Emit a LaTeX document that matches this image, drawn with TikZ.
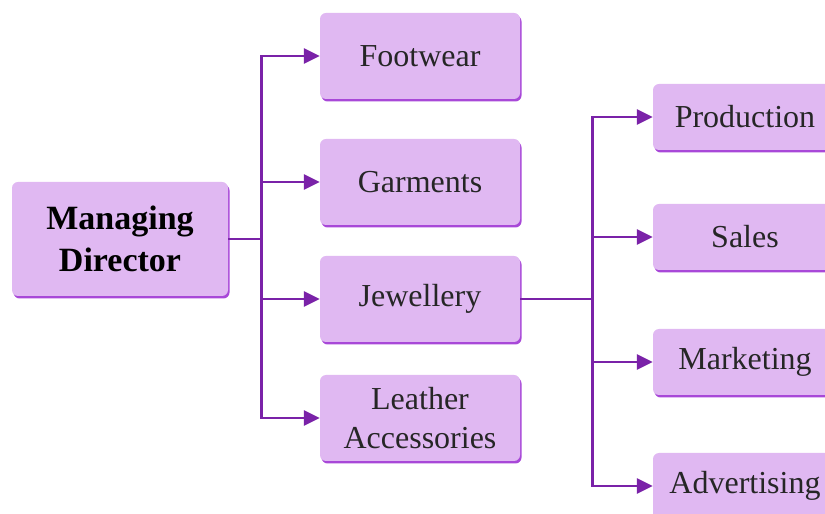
\documentclass[tikz,border=0pt]{standalone}
\usepackage{fontspec}
\setmainfont{Liberation Serif}
\usetikzlibrary{arrows.meta,shadows}

\definecolor{boxfill}{HTML}{E0B8F2}
\definecolor{boxedge}{HTML}{A848D8}
\definecolor{linkcol}{HTML}{7A22A8}

\tikzset{
  unit/.style={rounded corners=6pt,fill=boxfill,inner sep=0pt,align=center,
    font=\fontsize{32}{39}\selectfont,text=black!85,
    general shadow={fill=boxedge,shadow xshift=1.5pt,shadow yshift=-2.5pt,opacity=1}},
  leftunit/.style={unit,minimum width=200pt,minimum height=86pt},
  rightunit/.style={unit,minimum width=184pt,minimum height=66pt},
  link/.style={linkcol,line width=2.8pt,-{Triangle[length=16pt,width=15pt]}}
}

\begin{document}
\begin{tikzpicture}[x=1pt,y=1pt]
        \useasboundingbox (0,0) rectangle (825,514);
        \clip (0,0) rectangle (825,514);
        % head
        \node[unit,minimum width=216pt,minimum height=114pt,font=\fontsize{34}{42}\selectfont\bfseries,text=black] (md) at (120,275) {Managing\\Director};
        % divisions
        \node[leftunit] (foot) at (420,458) {Footwear};
        \node[leftunit] (garm) at (420,332) {Garments};
        \node[leftunit] (jewel) at (420,215) {Jewellery};
        \node[leftunit] (leath) at (420,96) {Leather\\Accessories};
        % jewellery departments
        \node[rightunit] (prod) at (745,397) {Production};
        \node[rightunit] (sales) at (745,277) {Sales};
        \node[rightunit] (mark) at (745,152) {Marketing};
        \node[rightunit] (adv) at (745,28) {Advertising};
        % connectors
        \foreach \t in {foot,garm,jewel,leath}
          \draw[link] (md.east) -- ++(33,0) |- (\t.west);
        \foreach \t in {prod,sales,mark,adv}
          \draw[link] (jewel.east) -- ++(72,0) |- (\t.west);
        \end{tikzpicture}
\end{document}
